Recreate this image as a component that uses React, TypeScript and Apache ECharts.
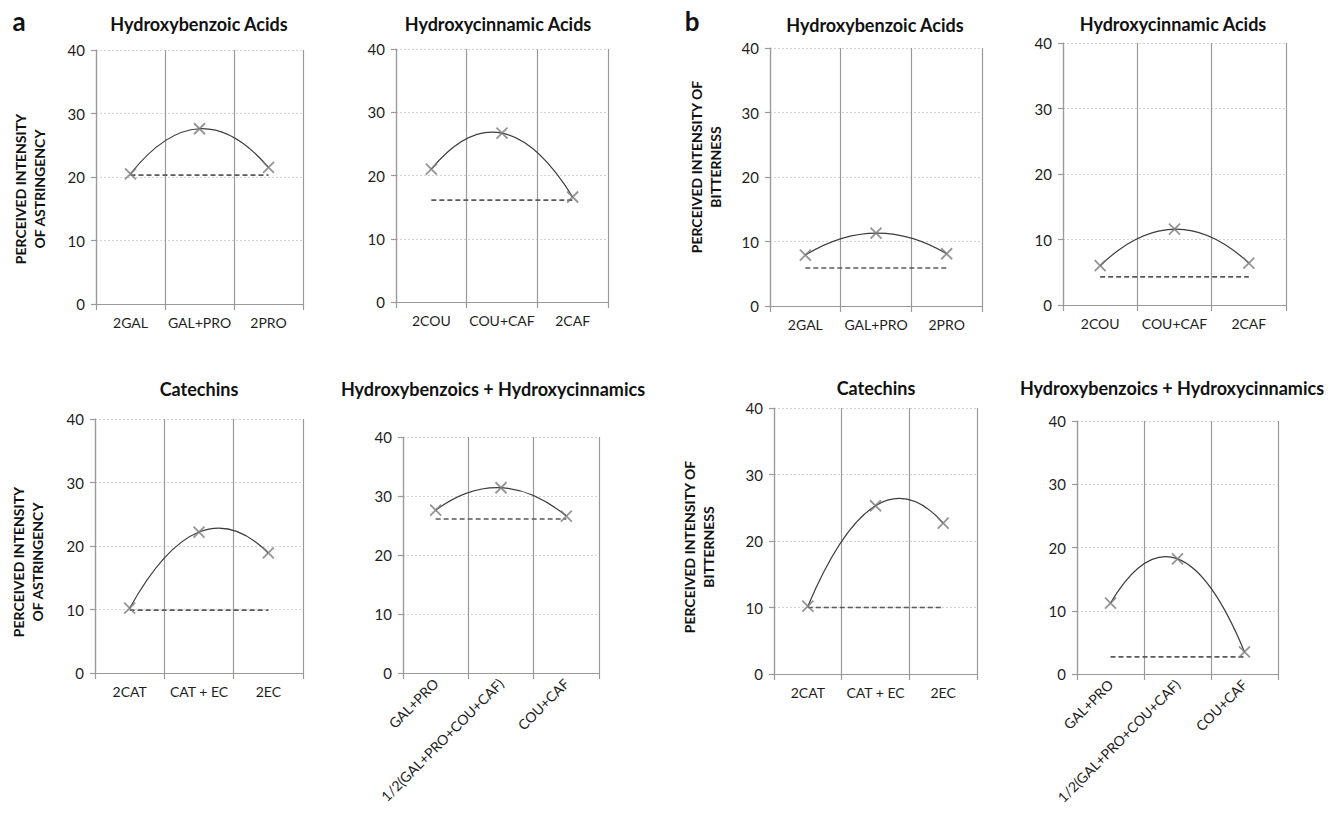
import React, { useEffect, useRef } from "react";
import * as echarts from "echarts";

// ---- Categories ----
const hbCats = ["2GAL", "GAL+PRO", "2PRO"];
const hcCats = ["2COU", "COU+CAF", "2CAF"];
const catCats = ["2CAT", "CAT + EC", "2EC"];
const mixCats = ["GAL+PRO", "1/2(GAL+PRO+COU+CAF)", "COU+CAF"];

// ---- (a) Astringency ----
const astHbValues = [20.5, 27.6, 21.5];
const astHbBase = [20.3, 20.3, 20.3];
const astHcValues = [21.0, 26.7, 16.6];
const astHcBase = [16.1, 16.1, 16.1];
const astCatValues = [10.2, 22.2, 18.9];
const astCatBase = [9.9, 9.9, 9.9];
const astMixValues = [27.6, 31.4, 26.6];
const astMixBase = [26.1, 26.1, 26.1];

// ---- (b) Bitterness ----
const bitHbValues = [7.9, 11.3, 8.1];
const bitHbBase = [5.9, 5.9, 5.9];
const bitHcValues = [6.0, 11.6, 6.4];
const bitHcBase = [4.3, 4.3, 4.3];
const bitCatValues = [10.2, 25.3, 22.7];
const bitCatBase = [10.0, 10.0, 10.0];
const bitMixValues = [11.2, 18.2, 3.5];
const bitMixBase = [2.7, 2.7, 2.7];

const yTicks = { min: 0, max: 40, interval: 10 };

const FONT = 'Lato, "Open Sans", sans-serif';

const panels = [
  { cats: hbCats, values: astHbValues, base: astHbBase, title: "Hydroxybenzoic Acids", grid: { left: 96, top: 50, width: 207, height: 254 }, tx: 199, ty: 24, rot: 0 },
  { cats: hcCats, values: astHcValues, base: astHcBase, title: "Hydroxycinnamic Acids", grid: { left: 396, top: 49, width: 212, height: 253 }, tx: 498, ty: 24, rot: 0 },
  { cats: hbCats, values: bitHbValues, base: bitHbBase, title: "Hydroxybenzoic Acids", grid: { left: 770, top: 48, width: 212, height: 258 }, tx: 875, ty: 25, rot: 0 },
  { cats: hcCats, values: bitHcValues, base: bitHcBase, title: "Hydroxycinnamic Acids", grid: { left: 1063, top: 43, width: 223, height: 262 }, tx: 1173, ty: 24, rot: 0 },
  { cats: catCats, values: astCatValues, base: astCatBase, title: "Catechins", grid: { left: 95, top: 419, width: 208, height: 254 }, tx: 199, ty: 389, rot: 0 },
  { cats: mixCats, values: astMixValues, base: astMixBase, title: "Hydroxybenzoics + Hydroxycinnamics", grid: { left: 403, top: 437, width: 196, height: 236 }, tx: 493, ty: 389, rot: 45 },
  { cats: catCats, values: bitCatValues, base: bitCatBase, title: "Catechins", grid: { left: 774, top: 408, width: 203, height: 266 }, tx: 876, ty: 388, rot: 0 },
  { cats: mixCats, values: bitMixValues, base: bitMixBase, title: "Hydroxybenzoics + Hydroxycinnamics", grid: { left: 1077, top: 421, width: 201, height: 253 }, tx: 1172, ty: 388, rot: 45 },
];

const yTitles = [
  { text: "PERCEIVED INTENSITY\nOF ASTRINGENCY", x: 30, y: 189 },
  { text: "PERCEIVED INTENSITY OF\nBITTERNESS", x: 706, y: 167 },
  { text: "PERCEIVED INTENSITY\nOF ASTRINGENCY", x: 28, y: 562 },
  { text: "PERCEIVED INTENSITY OF\nBITTERNESS", x: 699, y: 547 },
];

const panelLetters = [
  { text: "a", x: 19, y: 21 },
  { text: "b", x: 692, y: 21 },
];

const X_SYMBOL = "path://M0,0L10,10M10,0L0,10";

export default function App() {
  const ref = useRef<HTMLDivElement>(null);

  useEffect(() => {
    if (!ref.current) return;
    const chart = echarts.init(ref.current, null, { renderer: "svg" });

    const axisGray = "#9a9a9a";

    const option: any = {
      animation: false,
      backgroundColor: "#ffffff",
      grid: panels.map((p) => ({ ...p.grid, containLabel: false })),
      xAxis: panels.map((p, i) => ({
        type: "category",
        gridIndex: i,
        data: p.cats,
        boundaryGap: true,
        axisLine: { show: true, lineStyle: { color: axisGray, width: 1.2 } },
        axisTick: { show: true, length: 6, lineStyle: { color: axisGray, width: 1.2 } },
        axisLabel: {
          interval: 0,
          rotate: p.rot,
          color: "#1e1e1e",
          fontFamily: FONT,
          fontSize: 14,
          margin: p.rot ? 8 : 11,
        },
        splitLine: { show: true, lineStyle: { color: axisGray, width: 1.2 } },
      })),
      yAxis: panels.map((p, i) => ({
        type: "value",
        gridIndex: i,
        min: yTicks.min,
        max: yTicks.max,
        interval: yTicks.interval,
        axisLine: { show: true, lineStyle: { color: axisGray, width: 1.2 } },
        axisTick: { show: true, length: 5, lineStyle: { color: axisGray, width: 1.2 } },
        axisLabel: { color: "#1e1e1e", fontFamily: FONT, fontSize: 15, margin: 11 },
        splitLine: { show: true, lineStyle: { color: "#d4d4d4", type: [2, 2], width: 1 } },
      })),
      series: panels.flatMap((p, i) => [
        {
          type: "line",
          xAxisIndex: i,
          yAxisIndex: i,
          data: p.base,
          symbol: "none",
          lineStyle: { color: "#5a5a5a", width: 1.6, type: [5, 3] },
          z: 2,
        },
        {
          // 2nd-order polynomial trendline through the three measured points
          type: "custom",
          xAxisIndex: i,
          yAxisIndex: i,
          data: p.values.map((v, k) => [k, v]),
          encode: { x: 0, y: 1 },
          z: 3,
          renderItem: (params: any, api: any) => {
            if (params.dataIndexInside !== 0) return null;
            const a = api.coord([0, p.values[0]]);
            const b = api.coord([1, p.values[1]]);
            const c = api.coord([2, p.values[2]]);
            return {
              type: "bezierCurve",
              shape: {
                x1: a[0],
                y1: a[1],
                x2: c[0],
                y2: c[1],
                cpx1: 2 * b[0] - (a[0] + c[0]) / 2,
                cpy1: 2 * b[1] - (a[1] + c[1]) / 2,
              },
              style: { stroke: "#3c3c3c", lineWidth: 1.2, fill: null },
            };
          },
        },
        {
          type: "scatter",
          xAxisIndex: i,
          yAxisIndex: i,
          data: p.values,
          symbol: X_SYMBOL,
          symbolSize: 11,
          itemStyle: { color: "rgba(0,0,0,0)", borderColor: "#7a7a7a", borderWidth: 1.8 },
          z: 4,
        },
      ]),
      graphic: [
        ...panels.map((p) => ({
          type: "text",
          x: p.tx,
          y: p.ty,
          style: {
            text: p.title,
            font: `bold 18px ${FONT}`,
            fill: "#111",
            textAlign: "center",
            textVerticalAlign: "middle",
          },
        })),
        ...yTitles.map((t) => ({
          type: "text",
          x: t.x,
          y: t.y,
          rotation: Math.PI / 2,
          style: {
            text: t.text,
            font: `bold 14px ${FONT}`,
            fill: "#111",
            textAlign: "center",
            textVerticalAlign: "middle",
            lineHeight: 19,
          },
        })),
        ...panelLetters.map((t) => ({
          type: "text",
          x: t.x,
          y: t.y,
          style: {
            text: t.text,
            font: `bold 26px ${FONT}`,
            fill: "#111",
            textAlign: "center",
            textVerticalAlign: "middle",
          },
        })),
      ],
    };

    chart.setOption(option);
    return () => chart.dispose();
  }, []);

  return (
    <div
      ref={ref}
      style={{ position: "fixed", left: 0, top: 0, width: 1330, height: 814, background: "#fff" }}
    />
  );
}
